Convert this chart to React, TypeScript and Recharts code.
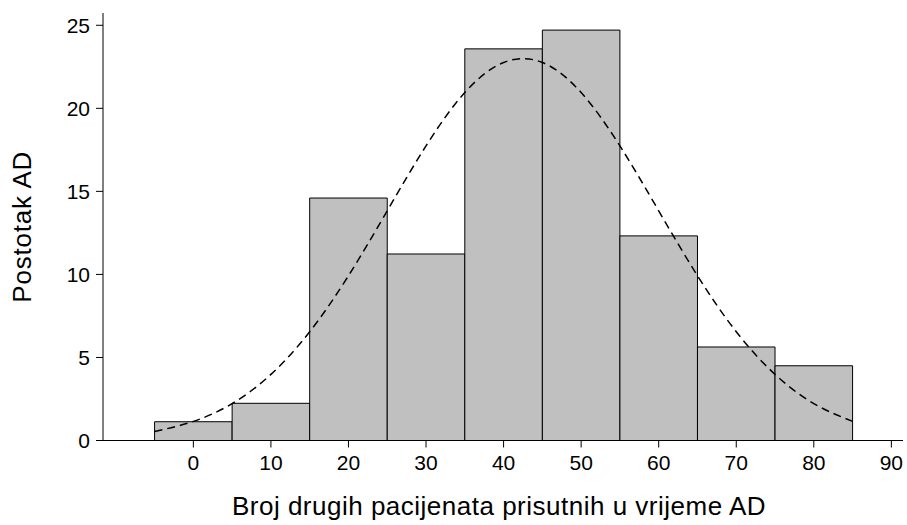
import React from "react";
import { ComposedChart, XAxis, YAxis, Line, ReferenceArea } from "recharts";

const binStart = [-5, 5, 15, 25, 35, 45, 55, 65, 75];
const binEnd = [5, 15, 25, 35, 45, 55, 65, 75, 85];
const binPercent = [1.13, 2.24, 14.6, 11.23, 23.58, 24.71, 12.32, 5.63, 4.5];

const curveX = [-5, 0, 5, 10, 15, 20, 25, 30, 35, 40, 45, 50, 55, 60, 65, 70, 75, 80, 85];
const curveY = [0.54, 1.15, 2.22, 3.98, 6.55, 9.92, 13.83, 17.74, 20.95, 22.76, 22.76, 20.95, 17.74, 13.83, 9.92, 6.55, 3.98, 2.22, 1.15];

const xTicks = [0, 10, 20, 30, 40, 50, 60, 70, 80, 90];
const yTicks = [0, 5, 10, 15, 20, 25];

const curveData = curveX.map((x, i) => ({ x, y: curveY[i] }));

const FONT = "'Liberation Sans', Arial, sans-serif";

const YTitle = (props: any) => {
  const vb = props.viewBox || {};
  const cx = vb.x + 14;
  const cy = vb.y + vb.height / 2;
  return (
    <text
      x={cx}
      y={cy}
      transform={`rotate(-90, ${cx}, ${cy})`}
      textAnchor="middle"
      dominantBaseline="central"
      fontSize={26}
      letterSpacing={0.8}
      fontFamily={FONT}
      fill="#000"
    >
      Postotak AD
    </text>
  );
};

const XTitle = (props: any) => {
  const vb = props.viewBox || {};
  const cx = vb.x + vb.width / 2 - 4;
  const cy = vb.y + vb.height - 19;
  return (
    <text
      x={cx}
      y={cy}
      textAnchor="middle"
      dominantBaseline="central"
      fontSize={26}
      letterSpacing={0.5}
      fontFamily={FONT}
      fill="#000"
    >
      Broj drugih pacijenata prisutnih u vrijeme AD
    </text>
  );
};

export default function App() {
  return (
    <div
      style={{
        width: 907,
        height: 525,
        boxSizing: "border-box",
        paddingLeft: 8,
        paddingTop: 8,
        background: "#fff",
      }}
    >
      <style>{"html,body{margin:0;padding:0;}"}</style>
      <ComposedChart
        width={899}
        height={517}
        data={curveData}
        margin={{ top: 5, right: 4, left: 0, bottom: 0 }}
        style={{ overflow: "visible" }}
      >
        <XAxis
          dataKey="x"
          type="number"
          domain={[-11.65, 91.5]}
          ticks={xTicks}
          allowDataOverflow
          tickSize={7}
          tickMargin={8}
          height={84.5}
          axisLine={{ stroke: "#000" }}
          tickLine={{ stroke: "#000" }}
          tick={{ fill: "#000", fontSize: 21, fontFamily: FONT }}
          label={<XTitle />}
        />
        <YAxis
          type="number"
          domain={[0, 25.74]}
          ticks={yTicks}
          allowDataOverflow
          width={95}
          tickSize={7}
          tickMargin={6}
          axisLine={{ stroke: "#000" }}
          tickLine={{ stroke: "#000" }}
          tick={{ fill: "#000", fontSize: 21, fontFamily: FONT }}
          label={<YTitle />}
        />
        {binStart.map((s, i) => (
          <ReferenceArea
            key={i}
            x1={s}
            x2={binEnd[i]}
            y1={0}
            y2={binPercent[i]}
            fill="#c0c0c0"
            fillOpacity={1}
            stroke="#000"
            strokeWidth={1}
          />
        ))}
        <Line
          dataKey="y"
          type="natural"
          stroke="#000"
          strokeWidth={1.5}
          strokeDasharray="8 5"
          dot={false}
          activeDot={false}
          isAnimationActive={false}
        />
      </ComposedChart>
    </div>
  );
}
